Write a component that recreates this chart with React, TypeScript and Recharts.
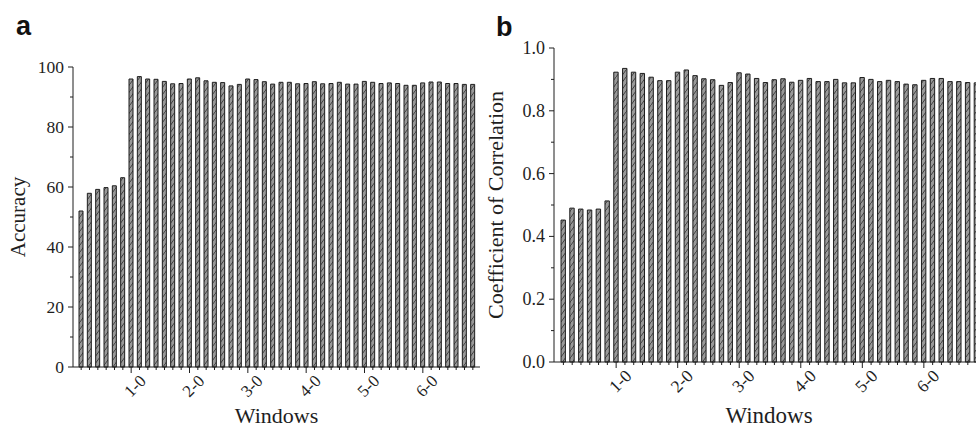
import { BarChart, Bar, XAxis, YAxis } from "recharts";

// window labels, one per bar (labels ending in "-0" are shown on the axis)
const windows = [
  "0-1", "0-2", "0-3", "0-4", "0-5", "0-6",
  "1-0", "1-1", "1-2", "1-3", "1-4", "1-5", "1-6",
  "2-0", "2-1", "2-2", "2-3", "2-4", "2-5", "2-6",
  "3-0", "3-1", "3-2", "3-3", "3-4", "3-5", "3-6",
  "4-0", "4-1", "4-2", "4-3", "4-4", "4-5", "4-6",
  "5-0", "5-1", "5-2", "5-3", "5-4", "5-5", "5-6",
  "6-0", "6-1", "6-2", "6-3", "6-4", "6-5", "6-6",
];

const accuracy = [
  52.0, 57.9, 59.2, 59.8, 60.4, 63.1,
  96.0, 96.8, 96.0, 95.9, 95.2, 94.4, 94.5,
  96.0, 96.4, 95.4, 94.9, 94.8, 93.7, 94.2,
  96.0, 95.8, 95.1, 94.3, 94.9, 94.9, 94.4,
  94.5, 95.1, 94.4, 94.5, 94.9, 94.3, 94.3,
  95.2, 94.9, 94.5, 94.7, 94.5, 93.9, 93.9,
  94.7, 95.0, 95.0, 94.5, 94.5, 94.2, 94.2,
];

const correlation = [
  0.452, 0.49, 0.487, 0.484, 0.487, 0.513,
  0.923, 0.935, 0.923, 0.919, 0.907, 0.896, 0.896,
  0.923, 0.93, 0.912, 0.902, 0.899, 0.881, 0.89,
  0.921, 0.917, 0.903, 0.89, 0.899, 0.902, 0.891,
  0.897, 0.903, 0.893, 0.893, 0.9, 0.889, 0.889,
  0.906, 0.9, 0.893, 0.897, 0.893, 0.885, 0.883,
  0.897, 0.903, 0.903, 0.893, 0.893, 0.89, 0.889,
];

const accuracyTicks = [0, 10, 20, 30, 40, 50, 60, 70, 80, 90, 100];
const correlationTicks = [0, 0.1, 0.2, 0.3, 0.4, 0.5, 0.6, 0.7, 0.8, 0.9, 1.0];

const dataA = windows.map((w, i) => ({ win: w, value: accuracy[i] }));
const dataB = windows.map((w, i) => ({ win: w, value: correlation[i] }));

const SERIF = "'Liberation Serif', 'Times New Roman', serif";
const INK = "#1e1e1e";

function XTick({ x, y, payload, fs }: any) {
  const major = String(payload.value).endsWith("-0");
  const tx = x + 4;
  const ty = y + 19;
  return (
    <g>
      <line x1={x} y1={y} x2={x} y2={y + (major ? 6 : 3)} stroke={INK} strokeWidth={1} />
      {major && (
        <text
          x={tx}
          y={ty}
          transform={`rotate(-45 ${tx} ${ty})`}
          textAnchor="middle"
          dominantBaseline="central"
          fontFamily={SERIF}
          fontSize={fs}
          fill={INK}
        >
          {payload.value}
        </text>
      )}
    </g>
  );
}

function YTick({ x, y, payload, fs, isMajor, fmt }: any) {
  const major = isMajor(payload.value);
  return (
    <g>
      <line x1={x} y1={y} x2={x - (major ? 5 : 3)} y2={y} stroke={INK} strokeWidth={1} />
      {major && (
        <text
          x={x - 9}
          y={y}
          textAnchor="end"
          dominantBaseline="central"
          fontFamily={SERIF}
          fontSize={fs}
          fill={INK}
        >
          {fmt(payload.value)}
        </text>
      )}
    </g>
  );
}

const yTitle = (text: string, dx: number, fs: number) => ({ viewBox }: any) => {
  const cx = viewBox.x + viewBox.width - dx;
  const cy = viewBox.y + viewBox.height / 2;
  return (
    <text
      x={cx}
      y={cy}
      transform={`rotate(-90 ${cx} ${cy})`}
      textAnchor="middle"
      fontFamily={SERIF}
      fontSize={fs}
      fill={INK}
    >
      {text}
    </text>
  );
};

const xTitle = (text: string, dy: number, fs: number) => ({ viewBox }: any) => (
  <text
    x={viewBox.x + viewBox.width / 2}
    y={viewBox.y + dy}
    textAnchor="middle"
    fontFamily={SERIF}
    fontSize={fs}
    fill={INK}
  >
    {text}
  </text>
);

function Hatch({ id }: { id: string }) {
  return (
    <defs>
      <pattern id={id} patternUnits="userSpaceOnUse" width={5} height={7}>
        <rect x={0} y={0} width={5} height={7} fill="#999999" />
        <path d="M0,7 L5,0" stroke="#2a2a2a" strokeWidth={0.8} />
      </pattern>
    </defs>
  );
}

export default function App() {
  return (
    <div
      style={{
        position: "absolute",
        left: 0,
        top: 0,
        width: 976,
        height: 428,
        overflow: "hidden",
        background: "#fff",
      }}
    >
      <div style={{ position: "absolute", left: 0, top: 0 }}>
        <BarChart
          width={490}
          height={428}
          data={dataA}
          margin={{ top: 67, right: 10, bottom: 6, left: 3 }}
          barSize={4}
        >
          <Hatch id="hatchA" />
          <XAxis
            dataKey="win"
            interval={0}
            height={55}
            tickSize={0}
            tickMargin={0}
            tickLine={false}
            axisLine={{ stroke: INK }}
            padding={{ left: 4, right: 3 }}
            tick={(p: any) => <XTick {...p} fs={17} />}
            label={{ content: xTitle("Windows", 56, 22) }}
          />
          <YAxis
            width={70}
            domain={[0, 100]}
            ticks={accuracyTicks}
            interval={0}
            tickSize={0}
            tickMargin={0}
            tickLine={false}
            axisLine={{ stroke: INK }}
            tick={(p: any) => (
              <YTick {...p} fs={17.5} isMajor={(v: number) => v % 20 === 0} fmt={(v: number) => String(v)} />
            )}
            label={{ content: yTitle("Accuracy", 48, 21) }}
          />
          <Bar
            dataKey="value"
            fill="url(#hatchA)"
            stroke={INK}
            strokeWidth={1}
            isAnimationActive={false}
          />
        </BarChart>
      </div>

      <div style={{ position: "absolute", left: 466, top: 0 }}>
        <BarChart
          width={524}
          height={428}
          data={dataB}
          margin={{ top: 48, right: 6, bottom: 6, left: 28 }}
          barSize={4.4}
        >
          <Hatch id="hatchB" />
          <XAxis
            dataKey="win"
            interval={0}
            height={60}
            tickSize={0}
            tickMargin={0}
            tickLine={false}
            axisLine={{ stroke: INK }}
            padding={{ left: 5, right: 3 }}
            tick={(p: any) => <XTick {...p} fs={17.5} />}
            label={{ content: xTitle("Windows", 61, 23) }}
          />
          <YAxis
            width={60}
            domain={[0, 1]}
            ticks={correlationTicks}
            interval={0}
            tickSize={0}
            tickMargin={0}
            tickLine={false}
            axisLine={{ stroke: INK }}
            tick={(p: any) => (
              <YTick
                {...p}
                fs={18}
                isMajor={(v: number) => Math.round(v * 10) % 2 === 0}
                fmt={(v: number) => v.toFixed(1)}
              />
            )}
            label={{ content: yTitle("Coefficient of Correlation", 51, 22) }}
          />
          <Bar
            dataKey="value"
            fill="url(#hatchB)"
            stroke={INK}
            strokeWidth={1}
            isAnimationActive={false}
          />
        </BarChart>
      </div>

      <svg
        width={976}
        height={428}
        style={{ position: "absolute", left: 0, top: 0, pointerEvents: "none" }}
      >
        <text x={16} y={35} fontFamily="'Liberation Sans', Arial, sans-serif" fontWeight="bold" fontSize={27} fill="#111">
          a
        </text>
        <text x={496} y={36} fontFamily="'Liberation Sans', Arial, sans-serif" fontWeight="bold" fontSize={27} fill="#111">
          b
        </text>
      </svg>
    </div>
  );
}
